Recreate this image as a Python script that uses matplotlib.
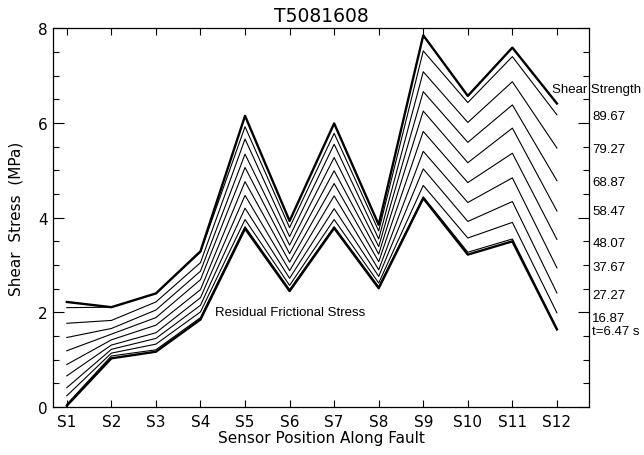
import matplotlib
matplotlib.use("Agg")
import matplotlib.pyplot as plt
from matplotlib.ticker import MultipleLocator

# sensors along the fault
sensors = ["S1", "S2", "S3", "S4", "S5", "S6", "S7", "S8", "S9", "S10", "S11", "S12"]

# shear strength (top bold curve) and residual frictional stress (bottom bold curve), MPa
shear_strength = [2.22, 2.11, 2.40, 3.29, 6.15, 3.93, 5.99, 3.85, 7.85, 6.57, 7.59, 6.41]
residual_stress = [0.03, 1.03, 1.17, 1.85, 3.77, 2.45, 3.78, 2.51, 4.41, 3.22, 3.50, 1.64]

# shear stress profiles at successive times (s)
times = ["89.67", "79.27", "68.87", "58.47", "48.07", "37.67", "27.27", "16.87", "t=6.47 s"]
stress_t = [
    [2.10, 2.11, 2.40, 3.27, 5.92, 3.79, 5.78, 3.72, 7.52, 6.43, 7.40, 6.17],
    [1.77, 1.83, 2.22, 3.05, 5.66, 3.60, 5.55, 3.55, 7.08, 6.01, 6.87, 5.47],
    [1.47, 1.66, 2.05, 2.87, 5.34, 3.42, 5.27, 3.39, 6.66, 5.59, 6.38, 4.78],
    [1.19, 1.54, 1.89, 2.69, 5.06, 3.24, 4.99, 3.23, 6.25, 5.16, 5.89, 4.14],
    [0.90, 1.42, 1.73, 2.48, 4.76, 3.06, 4.72, 3.07, 5.82, 4.74, 5.36, 3.54],
    [0.66, 1.31, 1.57, 2.31, 4.47, 2.88, 4.46, 2.90, 5.40, 4.32, 4.84, 2.94],
    [0.41, 1.22, 1.45, 2.15, 4.20, 2.72, 4.19, 2.76, 5.03, 3.92, 4.34, 2.41],
    [0.24, 1.14, 1.33, 2.01, 3.96, 2.57, 3.96, 2.62, 4.68, 3.57, 3.90, 1.99],
    [0.06, 1.08, 1.21, 1.89, 3.81, 2.48, 3.81, 2.54, 4.44, 3.27, 3.55, 1.66],
]

# y positions (MPa) of the right hand labels
label_y = [6.15, 5.45, 4.76, 4.15, 3.47, 2.95, 2.36, 1.89, 1.60]

x = list(range(1, len(sensors) + 1))

fig = plt.figure(figsize=(6.44, 4.56), dpi=100)
ax = fig.add_axes([0.0823, 0.105, 0.8323, 0.831])

for prof in stress_t:
    ax.plot(x, prof, color="black", lw=0.8)
ax.plot(x, shear_strength, color="black", lw=1.7)
ax.plot(x, residual_stress, color="black", lw=1.7)

ax.set_xlim(0.69, 12.72)
ax.set_ylim(0, 8)
ax.set_xticks(x)
ax.set_xticklabels(sensors)
ax.yaxis.set_major_locator(MultipleLocator(2))
ax.yaxis.set_minor_locator(MultipleLocator(0.5))
ax.tick_params(axis="x", direction="in", top=True, length=5, width=0.8,
               labelsize=11, pad=5)
ax.tick_params(axis="y", which="major", direction="in", right=True, length=8,
               width=0.8, labelsize=11, pad=4)
ax.tick_params(axis="y", which="minor", direction="in", right=True, length=4, width=0.8)
for s in ax.spines.values():
    s.set_linewidth(0.9)

ax.set_title("T5081608", fontsize=13.5, pad=5)
ax.set_xlabel("Sensor Position Along Fault", fontsize=11, labelpad=1)
ax.set_ylabel("Shear  Stress  (MPa)", fontsize=11, labelpad=10)

trans = ax.get_yaxis_transform()
for lab, yy in zip(times, label_y):
    ax.text(1.006, yy, lab, transform=trans, fontsize=9.5, family="Liberation Sans",
            va="center", ha="left", clip_on=False)
ax.text(0.931, 6.72, "Shear Strength", transform=trans, fontsize=9.5,
        family="Liberation Sans", va="center", ha="left", clip_on=False)
ax.text(4.32, 2.0, "Residual Frictional Stress", fontsize=9.5,
        family="Liberation Sans", va="center", ha="left")

fig.savefig("out.png", dpi=100)
